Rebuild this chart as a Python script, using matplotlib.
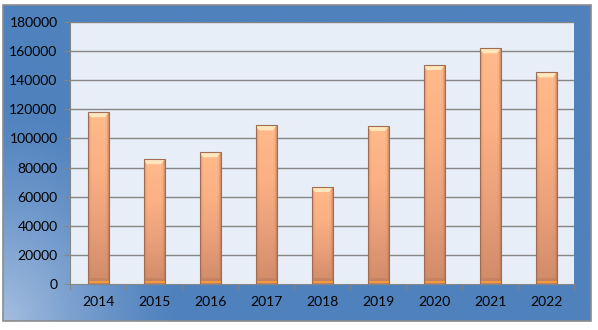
import numpy as np
import matplotlib.pyplot as plt
from matplotlib.patches import Rectangle, Polygon
from matplotlib.colors import LinearSegmentedColormap

years = ['2014', '2015', '2016', '2017', '2018', '2019', '2020', '2021', '2022']
values = [118000, 85700, 90500, 109000, 66600, 108500, 150400, 161900, 145400]
yticks = [0, 20000, 40000, 60000, 80000, 100000, 120000, 140000, 160000, 180000]

W, H = 598, 330
fig = plt.figure(figsize=(W / 100, H / 100), dpi=100)
fig.patch.set_facecolor('white')

# blue gradient background inside a grey frame
bg = fig.add_axes([3 / W, 1 - 321 / H, 588 / W, 316 / H])
bg.set_axis_off()
yy, xx = np.mgrid[0:1:200j, 0:1:300j]
# lighter toward lower-left corner
d = np.clip(1 - np.sqrt((xx / 0.3) ** 2 + ((1 - yy) / 0.7) ** 2), 0, 1) ** 1.3
blue = np.array([0x4f, 0x81, 0xbd]) / 255
light = np.array([0xa4, 0xbe, 0xe0]) / 255
img = blue[None, None, :] * (1 - d[..., None]) + light[None, None, :] * d[..., None]
bg.imshow(img, extent=[0, 1, 0, 1], aspect='auto', origin='upper')
bg.add_patch(Rectangle((0, 0), 1, 1, transform=bg.transAxes, fill=False,
                       edgecolor='#8c8c8c', lw=1.2, clip_on=False))
bg.set_xlim(0, 1)
bg.set_ylim(0, 1)

# plot area
x0, x1, ytop, ybot = 70, 574, 22, 284
ax = fig.add_axes([x0 / W, 1 - ybot / H, (x1 - x0) / W, (ybot - ytop) / H])
ax.set_xlim(-0.5, len(years) - 0.5)
ax.set_ylim(0, 180000)
ax.set_facecolor('#e8eef7')
ph = ybot - ytop

for v in yticks[1:]:
    ax.axhline(v, color='#868686', lw=1, zorder=1)

# bars
bar_w = 0.375
px = 180000 / ph  # data units per pixel
bars = ax.bar(range(len(years)), values, width=bar_w, color='none',
              edgecolor='#a06c52', linewidth=0.8, zorder=3)
cmap = LinearSegmentedColormap.from_list('orng', ['#ffba8b', '#fbb085', '#e99f79', '#d08b69'])
hcmap = LinearSegmentedColormap.from_list('edge', ['#b07050', '#f0a880', '#ffb98a', '#f0a880', '#b07050'])
for b, v in zip(bars, values):
    bx = b.get_x()
    grad = np.linspace(0, 1, 100)[:, None]
    im = ax.imshow(grad, extent=[bx, bx + bar_w, 0, v], aspect='auto', cmap=cmap,
                   origin='upper', zorder=2)
    im.set_clip_path(b)
    # side shading
    side = np.linspace(0, 1, 60)[None, :]
    rgba = hcmap(side)
    alpha = np.abs(side - 0.5) * 2
    rgba[..., 3] = np.clip((alpha - 0.7) / 0.3, 0, 1) * 0.6
    im2 = ax.imshow(rgba, extent=[bx, bx + bar_w, 0, v], aspect='auto', zorder=2.1)
    im2.set_clip_path(b)
    # top highlight cap (bevel)
    inset = bar_w * 0.16
    ax.add_patch(Polygon([(bx, v), (bx + bar_w, v), (bx + bar_w - inset, v - 5 * px),
                          (bx + inset, v - 5 * px)], closed=True,
                         facecolor='#ffe6bb', edgecolor='none', zorder=2.5))
    # dark bottom band and orange base line
    ax.add_patch(Rectangle((bx, 0), bar_w, 6 * px, facecolor='#b97a5c',
                           edgecolor='none', alpha=0.45, zorder=2.5))
    ax.add_patch(Rectangle((bx, 1 * px), bar_w, 2 * px,
                           facecolor='#f39a3a', edgecolor='none', zorder=2.6))

for s in ['top', 'right']:
    ax.spines[s].set_visible(False)
ax.spines['left'].set_color('#868686')
ax.spines['bottom'].set_color('#868686')
ax.spines['left'].set_zorder(4)
ax.spines['bottom'].set_zorder(4)

ax.set_yticks(yticks)
ax.set_yticklabels([str(v) for v in yticks])
ax.set_xticks(range(len(years)))
ax.set_xticklabels(years)
ax.set_xticks(np.arange(-0.5, len(years)), minor=True)
ax.tick_params(axis='y', length=4, color='#868686', labelsize=10, pad=5)
ax.tick_params(axis='x', which='major', length=0, labelsize=10, pad=9)
ax.tick_params(axis='x', which='minor', length=4, color='#868686')
for lab in ax.get_xticklabels() + ax.get_yticklabels():
    lab.set_fontfamily('Lato')
    lab.set_color('black')

fig.savefig('out.png', dpi=100)
